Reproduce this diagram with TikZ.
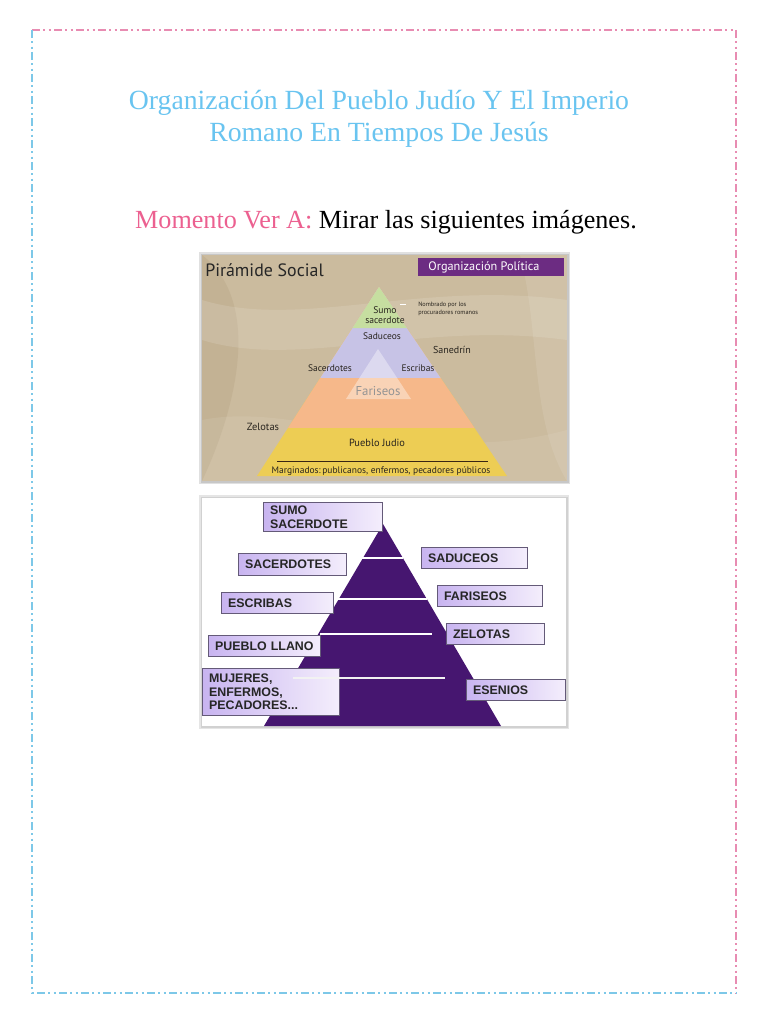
\documentclass[tikz,border=0pt]{standalone}
\usepackage{fontspec}
\setmainfont{Liberation Serif}
\newfontfamily\arialf{Liberation Sans}
\newfontfamily\myriadf{PT Sans}
\usetikzlibrary{calc}
\definecolor{titleblue}{RGB}{105,196,240}
\definecolor{momentpink}{RGB}{236,96,144}
\definecolor{bordpink}{RGB}{232,140,178}
\definecolor{bordblue}{RGB}{125,200,232}
\definecolor{tanbg}{RGB}{203,187,158}
\definecolor{tandark}{RGB}{188,170,140}
\definecolor{polpurple}{RGB}{108,44,130}
\definecolor{lgreen}{RGB}{198,222,160}
\definecolor{lav}{RGB}{199,195,230}
\definecolor{peach}{RGB}{246,184,138}
\definecolor{yell}{RGB}{237,205,84}
\definecolor{deeppurple}{RGB}{70,22,112}
\definecolor{boxl}{RGB}{244,238,252}
\definecolor{boxr}{RGB}{200,180,240}
\definecolor{boxedge}{RGB}{100,90,120}
\definecolor{ptext}{RGB}{40,36,30}
\tikzset{
  bordline/.style={line width=1.1pt, dash pattern=on 6pt off 2.5pt on 1.5pt off 2.5pt on 1.5pt off 2.5pt},
  titletext/.style={font=\fontsize{20.8}{24}\selectfont, text=titleblue, inner sep=0pt},
  ptlabel/.style={font=\myriadf\fontsize{7.1}{7.6}\selectfont, text=ptext, inner sep=0pt, align=center},
  pbox/.style={draw=boxedge, line width=0.6pt, left color=boxr, right color=boxl, inner xsep=5pt, inner ysep=0pt, align=left, font=\arialf\bfseries\fontsize{9.3}{10.3}\selectfont, text=black!85},
  wline/.style={white, line width=1.2pt}
}
\newcommand\purplebox[6]{%
  \pgfmathsetmacro\bw{(#4-#2)*0.75}%
  \pgfmathsetmacro\bh{(#5-#3)*0.75}%
  \pgfmathsetmacro\tw{\bw-10}%
  \node[pbox, minimum width=\bw pt, minimum height=\bh pt, text width=\tw pt, anchor=north west] (#1) at (#2,#3) {#6};}
\begin{document}
\begin{tikzpicture}[x=0.75pt,y=-0.75pt]
\useasboundingbox (0,0) rectangle (768,1024);
\fill[white] (0,0) rectangle (768,1024);
% page border
\coordinate (tl) at (32,30);
\coordinate (tr) at (736,30);
\coordinate (br) at (736,993);
\coordinate (bl) at (32,993);
\draw[bordline, bordpink] (tl) -- (tr) -- (br);
\draw[bordline, bordblue] (tl) -- (bl) -- (br);
% title
\node[titletext] (t1) at (379,103) {Organización Del Pueblo Judío Y El Imperio};
\node[titletext] (t2) at (379,135) {Romano En Tiempos De Jesús};
\node[inner sep=0pt, font=\fontsize{19.6}{22}\selectfont] (mom) at (386,222) {\textcolor{momentpink}{Momento Ver A:} Mirar las siguientes imágenes.};
% ---------- top image ----------
\fill[black!12] (199,252) rectangle (570,484);
\fill[black!22] (200.5,253.5) rectangle (568.5,482.5);
\begin{scope}
\clip (202,255) rectangle (567,481);
\fill[tanbg] (202,255) rectangle (567,481);
\fill[tandark, opacity=0.5] (202,255) .. controls (260,300) and (240,400) .. (202,481) -- cycle;
\fill[white, opacity=0.12] (202,300) .. controls (300,330) and (420,280) .. (567,300) -- (567,340) .. controls (420,320) and (300,370) .. (202,340) -- cycle;
\fill[white, opacity=0.10] (520,255) .. controls (540,330) and (530,420) .. (567,481) -- (567,255) -- cycle;
\fill[white, opacity=0.08] (202,420) .. controls (300,400) and (420,470) .. (567,430) -- (567,481) -- (202,481) -- cycle;
\end{scope}
\node[anchor=west, inner sep=0pt, font=\myriadf\fontsize{13.4}{14}\selectfont, text=black!85] (ps) at (205,270) {Pirámide Social};
\fill[polpurple] (418,258) rectangle (564,276);
\node[inner sep=0pt, font=\myriadf\fontsize{9.2}{10}\selectfont, text=white] (op) at (484,267) {Organización Política};
% pyramid
\coordinate (A) at (379,287);
\coordinate (BL) at (257,476);
\coordinate (BR) at (507,476);
\fill[yell] (A) -- (BL) -- (BR) -- cycle;
\fill[peach] (A) -- ($(A)!0.746!(BL)$) -- ($(A)!0.746!(BR)$) -- cycle;
\fill[lav] (A) -- ($(A)!0.481!(BL)$) -- ($(A)!0.481!(BR)$) -- cycle;
\fill[lgreen] (A) -- ($(A)!0.217!(BL)$) -- ($(A)!0.217!(BR)$) -- cycle;
\fill[white, opacity=0.38] (378,349) -- (346,399) -- (411,399) -- cycle;
\draw[black!70!brown, line width=0.5pt] (277,461) -- (488,461);
\node[ptlabel, font=\myriadf\fontsize{7.2}{7.6}\selectfont] (sumo) at (385,315) {Sumo\\sacerdote};
\fill[white] (400,303.5) rectangle (406,305);
\node[ptlabel, align=left, anchor=west, font=\myriadf\fontsize{4.7}{5.8}\selectfont] (nomb) at (418,309) {Nombrado por los\\procuradores romanos};
\node[ptlabel] (sad) at (382,336) {Saduceos};
\node[ptlabel, font=\myriadf\fontsize{7.5}{8}\selectfont] (san) at (452,350) {Sanedrín};
\node[ptlabel] (sac) at (330,368) {Sacerdotes};
\node[ptlabel] (esc) at (418,368) {Escribas};
\node[ptlabel, font=\myriadf\fontsize{9.6}{10}\selectfont, text=black!42] (far) at (378,391) {Fariseos};
\node[ptlabel, font=\myriadf\fontsize{7.8}{8}\selectfont] (zel) at (263,427) {Zelotas};
\node[ptlabel, font=\myriadf\fontsize{7.8}{8}\selectfont] (pj) at (377,443) {Pueblo Judio};
\node[ptlabel] (marg) at (381,471) {Marginados:\,publicanos, enfermos, pecadores públicos};
% ---------- bottom image ----------
\fill[black!10] (199,495) rectangle (569,729);
\fill[black!18] (200.5,496.5) rectangle (567.5,727.5);
\fill[white] (202,498) rectangle (566,726);
\fill[deeppurple] (383,524) -- (264,726) -- (501,726) -- cycle;
\purplebox{sumobox}{263}{502}{382}{531}{SUMO\\SACERDOTE}
\purplebox{sacbox}{238}{553}{346}{575}{SACERDOTES}
\purplebox{escbox}{221}{592}{333}{613}{ESCRIBAS}
\purplebox{pllbox}{208}{635}{320}{656}{\mbox{PUEBLO LLANO}}
\purplebox{mujbox}{202}{668}{339}{715}{MUJERES,\\ENFERMOS,\\PECADORES...}
\purplebox{sadbox}{421}{547}{527}{568}{SADUCEOS}
\purplebox{farbox}{437}{585}{542}{606}{FARISEOS}
\purplebox{zelbox}{446}{623}{544}{644}{ZELOTAS}
\purplebox{esebox}{466}{679}{565}{700}{ESENIOS}
\draw[wline] (361,558) -- (403,558);
\draw[wline] (338,599) -- (427,599);
\draw[wline] (320,634) -- (432,634);
\draw[wline, white!90!gray] (293,678) -- (445,678);
\end{tikzpicture}
\end{document}
